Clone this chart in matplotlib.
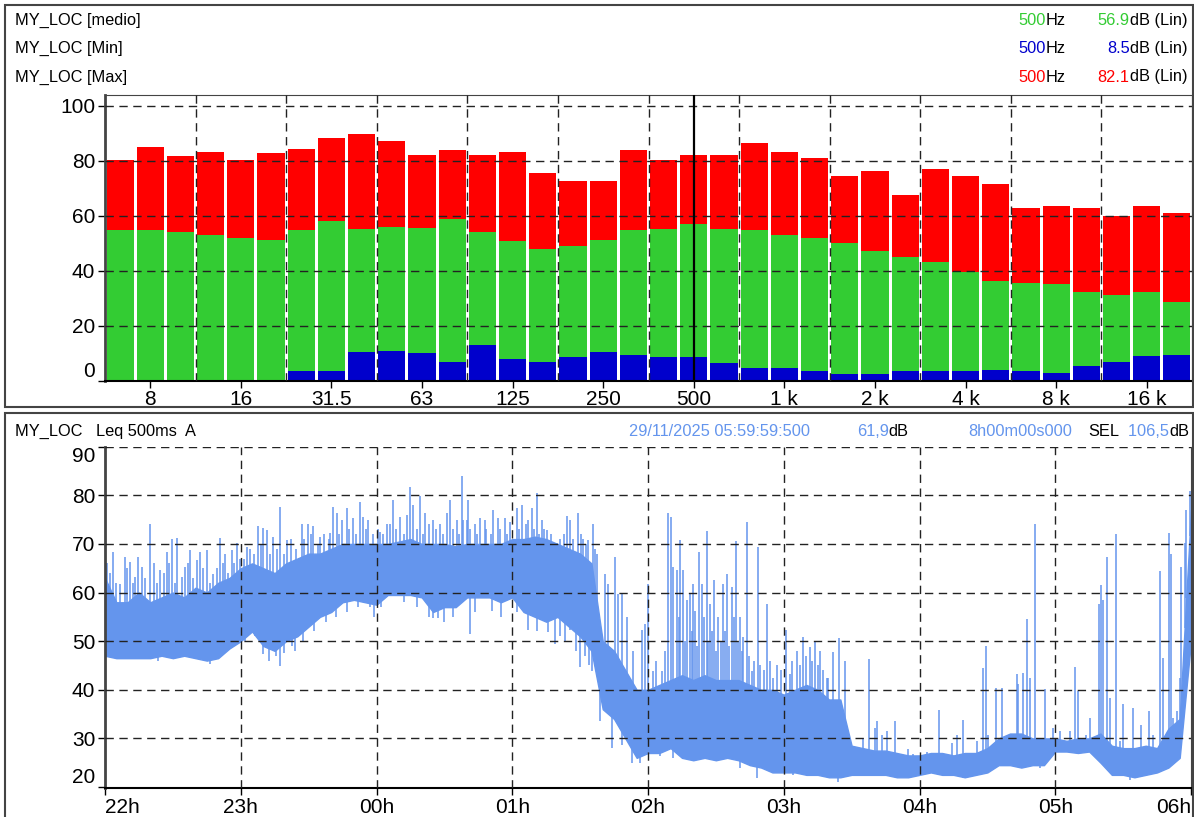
import matplotlib
matplotlib.use('Agg')
import matplotlib.pyplot as plt
from matplotlib.patches import Rectangle
import numpy as np

plt.rcParams['font.family'] = ['Liberation Sans', 'DejaVu Sans']

W, H = 1194, 817
GREEN = '#33cc33'
RED = '#ff0000'
BLUE = '#0000cc'
LINE = '#6495ed'
GRID = (0, (6, 4))

# ---------------- 1/3 octave spectrum (6.3 Hz .. 20 kHz) ----------------
bands = ['6.3', '8', '10', '12.5', '16', '20', '25', '31.5', '40', '50', '63', '80',
         '100', '125', '160', '200', '250', '315', '400', '500', '630', '800', '1k', '1.25k',
         '1.6k', '2k', '2.5k', '3.15k', '4k', '5k', '6.3k', '8k', '10k', '12.5k', '16k', '20k']
spec_max = [80.3, 85.0, 81.8, 83.2, 80.3, 82.8, 84.3, 88.3, 89.8, 87.2, 82.1, 83.9,
            82.1, 83.2, 75.5, 72.6, 72.6, 83.9, 80.3, 82.1, 82.1, 86.5, 83.2, 81.0,
            74.5, 76.3, 67.5, 77.0, 74.5, 71.5, 62.8, 63.5, 62.8, 59.9, 63.5, 60.9]
spec_med = [54.7, 54.7, 54.0, 52.9, 51.8, 51.1, 54.7, 58.0, 55.1, 55.8, 55.5, 58.8,
            54.0, 50.7, 47.8, 48.9, 51.1, 54.7, 55.1, 56.9, 55.1, 54.7, 52.9, 51.8,
            50.0, 47.1, 44.9, 43.1, 39.4, 36.1, 35.4, 35.0, 32.1, 31.0, 32.1, 28.5]
spec_min = [0.0, 0.0, 0.0, 0.0, 0.0, 0.0, 3.3, 3.3, 10.2, 10.9, 9.9, 6.9,
            12.8, 8.0, 6.9, 8.4, 10.2, 9.1, 8.4, 8.5, 6.2, 4.4, 4.4, 3.3,
            2.2, 2.2, 3.3, 3.3, 3.3, 4.0, 3.6, 2.9, 5.1, 6.9, 8.8, 9.1]
spec_ticks = ['8', '16', '31.5', '63', '125', '250', '500', '1k', '2k', '4k', '8k', '16k']
spec_tick_labels = ['8', '16', '31.5', '63', '125', '250', '500', '1 k', '2 k', '4 k', '8 k', '16 k']
cursor_band = '500'

# ---------------- Leq 500ms A time history (minutes after 22h00) ----------------
t_body = list(range(0, 481, 5))
body_low = [47, 46.5, 46.5, 46.5, 46.5, 47, 46.5, 47, 46.5, 46,
            46.5, 48.5, 50, 52, 49, 48, 50, 51, 53, 55,
            56, 58, 58.5, 58, 57.5, 59.5, 59.5, 59.5, 59, 56,
            57, 57, 59, 59, 59, 58, 59, 56, 55, 54,
            55, 53, 51, 48, 36, 34, 30, 26, 27, 27,
            28, 26, 25.5, 26, 25.5, 26, 25.5, 24.5, 24, 23,
            23, 23, 22.5, 22.5, 22, 22, 22.5, 22.5, 22.5, 22.5,
            22, 22, 22.5, 23, 22.5, 22.5, 22, 22.5, 23, 24.5,
            24.5, 24, 24.5, 24.5, 27.3, 27.3, 27, 27.3, 25, 22.5,
            22.5, 22, 22.5, 23, 24, 26, 50]
body_high = [63, 58, 58, 60, 58, 59, 60, 59, 61, 60,
             62, 63, 65, 66, 65, 64, 66, 67, 68, 68,
             69, 70, 70, 70, 70, 70, 70.5, 71, 70, 70,
             70, 69.5, 70, 70, 70, 70, 71, 71, 71.5, 71,
             70, 69, 68, 66, 50, 48, 44, 40, 40, 41,
             42, 43, 42, 43, 42, 42, 42, 41, 40, 40,
             39, 40, 41, 40, 38, 38, 28.5, 28, 27.5, 27.5,
             27, 26.5, 26.5, 27, 27, 26.5, 27, 27, 28, 30,
             31, 31, 30, 30, 30, 29.5, 30, 30, 31, 28.5,
             28, 28, 28.5, 28, 32, 34, 77]

spike_t = [0.7, 3.7, 6.6, 8.8, 11.0, 13.3, 14.7, 16.2, 19.9, 24.3, 27.3, 29.5, 31.7, 33.9,
           35.4, 37.6, 40.5, 42.0, 44.9, 47.9, 50.8, 53.0, 56.0, 58.2, 62.6, 67.8, 70.0,
           71.4, 74.4, 77.3, 80.3, 86.9, 89.9, 92.1, 95.0, 99.4, 100.9, 102.4, 104.6,
           106.8, 109.7, 112.7, 114.2, 116.4, 121.5, 124.5, 127.4, 130.4, 134.8, 136.3,
           139.2, 141.4, 145.1, 148.0, 151.0, 152.5, 155.4, 157.6, 158.4, 159.8, 160.6,
           163.5, 165.7, 167.9, 171.6, 173.8, 176.8, 179.0, 181.9, 184.2, 187.1, 188.6,
           190.8, 193.0, 195.2, 199.6, 204.0, 205.5, 209.2, 211.4, 213.6, 215.8, 217.3,
           221.0, 222.4, 225.4, 226.9, 228.3, 230.5, 233.5, 237.2, 238.7, 240.1, 242.3,
           246.0, 249.0, 250.1, 251.2, 252.6, 254.1, 255.6, 257.1, 258.5, 260.0, 260.7,
           262.5, 263.7, 265.9, 267.4, 269.3, 271.1, 273.3, 275.0, 277.0, 278.9, 280.6,
           282.1, 283.6, 285.8, 288.4, 290.2, 292.4, 295.4, 301.0, 302.7, 305.7, 308.6,
           311.6, 313.8, 316.0, 319.0, 319.7, 321.6, 324.4, 327.0, 330.7, 335.1, 337.8,
           340.3, 341.0, 343.3, 345.5, 349.1, 355.0, 357.2, 363.1, 368.7, 374.2, 376.7,
           379.3, 383.0, 385.2, 388.2, 389.2, 390.4, 393.6, 396.3, 398.5, 402.9, 403.6,
           405.9, 407.6, 408.8, 411.0, 415.4, 419.1, 422.1, 426.5, 428.7, 430.2, 433.8,
           435.3, 439.3, 440.0, 441.2, 442.7, 444.1, 446.8, 448.6, 450.0, 454.5, 458.1,
           461.5, 463.3, 466.5, 467.7, 470.2, 471.1, 472.1, 473.6, 475.1, 475.8, 477.3,
           478.0, 479.5,
           2.0, 5.0, 9.8, 12.2, 17.5, 21.5, 23.0, 26.0, 28.5, 31.0, 36.5, 39.0, 43.5,
           46.5, 49.5, 52.0, 54.5, 57.0, 59.5, 61.5, 64.0, 66.0, 69.0, 73.0, 76.0, 79.0,
           82.0, 84.5, 88.0, 91.0, 94.0, 97.0, 99.0, 103.5, 108.0, 111.0, 115.5, 118.5,
           120.5, 123.0, 126.0, 128.5, 132.0, 133.5, 138.0, 140.5, 143.0, 146.5, 149.5,
           154.0, 156.5, 161.5, 164.5, 168.5, 170.5, 174.8, 177.8, 183.0, 186.0, 189.5,
           192.0, 194.0, 197.0, 201.0, 203.0, 207.0, 210.5, 212.5, 216.5, 243.5, 247.5,
           253.5, 256.5, 259.3, 261.5, 264.8, 266.5, 268.2, 270.2, 272.2, 274.2, 276.0,
           278.0, 279.8, 281.4, 284.7, 287.0, 289.3, 291.3, 294.0, 297.0, 299.0, 303.5,
           307.0, 310.0, 312.5, 315.0, 317.5]
spike_top = [66.0, 68.4, 61.8, 67.3, 66.3, 63.2, 67.3, 65.3, 74.2, 64.6, 68.4, 71.1, 71.3, 63.2,
             65.3, 68.7, 66.7, 68.4, 68.7, 63.9, 71.3, 68.0, 68.7, 70.1, 69.4, 73.6, 73.2,
             72.9, 71.5, 77.7, 70.8, 74.2, 74.2, 73.6, 71.5, 72.2, 77.7, 76.3, 74.9,
             77.3, 75.3, 78.7, 75.6, 74.9, 72.5, 74.2, 79.1, 75.6, 81.7, 78.0,
             79.8, 76.3, 74.9, 74.2, 76.3, 79.1, 74.9, 83.9, 74.9, 74.9, 79.1,
             74.2, 75.3, 74.9, 77.0, 75.3, 75.3, 74.6, 77.3, 78.0, 74.9, 77.3,
             80.5, 74.9, 72.9, 70.1, 75.8, 74.9, 76.3, 71.1, 70.8, 74.0, 68.0,
             63.9, 61.8, 67.3, 59.8, 59.8, 54.9, 48.0, 52.2, 53.5, 61.8, 43.9,
             43.9, 76.3, 75.6, 65.3, 64.6, 70.8, 64.6, 58.4, 59.8, 61.8, 56.3,
             68.4, 61.8, 72.7, 57.7, 62.5, 54.9, 61.8, 63.9, 61.1, 70.7, 54.9,
             50.8, 74.6, 43.9, 69.4, 39.7, 57.7, 42.5, 52.2, 43.2, 48.0, 50.8,
             48.7, 50.1, 48.0, 42.5, 42.5, 47.7, 50.6, 46.0, 28.0, 30.0, 46.3,
             32.1, 33.5, 30.8, 31.5, 33.5, 27.9, 26.8, 27.3, 35.9, 29.0, 30.8,
             33.7, 26.6, 29.4, 44.4, 49.1, 30.8, 40.4, 40.4, 30.0, 43.2, 41.1,
             43.5, 54.6, 42.5, 74.2, 40.1, 32.1, 31.5, 31.5, 44.6, 39.7, 30.8,
             34.2, 57.7, 61.5, 58.4, 67.3, 38.4, 72.0, 29.4, 37.0, 36.3, 32.8,
             35.6, 30.8, 64.4, 46.6, 72.2, 68.0, 34.2, 35.6, 42.5, 65.3, 70.1,
             77.0, 80.8,
             64, 62, 65, 62, 63, 66, 62, 64, 66, 62, 66, 63, 65,
             62, 65, 66, 64, 66, 67, 67, 69, 68, 70, 68, 69, 68,
             71, 69, 71, 72, 70, 72, 71, 72, 73, 72, 73, 72,
             73, 72, 74, 73, 72, 76, 73, 72, 74, 73, 72,
             73, 72, 73, 72, 73, 72, 73, 72, 73, 74, 73,
             72, 73, 72, 71, 72, 71, 72, 70, 69, 46, 48,
             55, 50, 52, 49, 55, 50, 52, 48, 50, 52, 49,
             55, 50, 48, 47, 46, 45, 44, 46, 45, 44, 46,
             45, 47, 46, 45, 44]

dip_t = [23.6, 46.4, 70.0, 77.3, 84.0, 117.1, 145.1, 147.3, 161.3, 170.9, 187.1, 195.9,
         198.9, 205.5, 209.9, 215.1, 218.8, 223.9, 228.3, 232.8, 236.4, 245.3, 251.2,
         260.0, 268.9, 280.6, 288.0, 292.4, 304.2, 311.6, 324.1, 352.8, 379.3, 413.2, 453.0,
         62.0, 66.5, 72.5, 75.5, 79.0, 82.5, 87.5, 92.5, 97.5, 102.0, 107.0, 112.0, 119.0,
         122.0, 132.0, 138.0, 143.0, 150.0, 154.0, 163.5, 175.0, 182.0, 191.0, 201.0,
         203.5, 208.0, 212.0, 214.0]
dip_bottom = [46.0, 45.4, 47.3, 44.9, 48.0, 57.0, 54.8, 54.8, 51.5, 56.3, 52.2, 51.8,
              49.4, 52.2, 44.6, 43.9, 33.5, 28.0, 28.7, 24.9, 24.9, 26.3, 26.0,
              26.3, 25.6, 23.9, 21.8, 24.5, 22.5, 23.5, 21.1, 22.1, 21.8, 23.9, 21.4,
              50, 51, 46, 47, 47.5, 49, 50, 52, 54, 55, 56, 57, 55,
              57, 58, 57, 55, 54, 55, 56, 55, 56, 52, 51,
              50, 48, 47, 45]

hour_ticks = [0, 60, 120, 180, 240, 300, 360, 420, 480]
hour_labels = ['22h', '23h', '00h', '01h', '02h', '03h', '04h', '05h', '06h']


def fx(x):
    return x / W


def fy(y):
    return 1 - y / H


fig = plt.figure(figsize=(W / 100, H / 100), dpi=100)
renderer = fig.canvas.get_renderer()


def chain(x, y, parts, ha='left', size=11.8):
    # write several coloured pieces of text one after the other
    if ha == 'right':
        parts = parts[::-1]
    for s, c in parts:
        t = fig.text(fx(x), fy(y), s, color=c, ha=ha, va='center', fontsize=size)
        bb = t.get_window_extent(renderer)
        x = bb.x1 if ha == 'left' else bb.x0


# panel frames
fig.add_artist(Rectangle((fx(4.5), fy(407)), fx(1193 - 4.5), (407 - 4.7) / H,
                         transform=fig.transFigure, fill=False, ec='#444444', lw=1.5))
fig.add_artist(Rectangle((fx(4.5), fy(820)), fx(1193 - 4.5), (820 - 413) / H,
                         transform=fig.transFigure, fill=False, ec='#444444', lw=1.5))

# ---------------- top panel ----------------
ax1 = fig.add_axes([fx(105), fy(380.5), fx(1087), (380.5 - 94.7) / H])
x = np.arange(len(bands))
ax1.bar(x, spec_max, width=0.9, color=RED, zorder=1)
ax1.bar(x, spec_med, width=0.9, color=GREEN, zorder=1)
ax1.bar(x, spec_min, width=0.9, color=BLUE, zorder=1)
ax1.set_xlim(-0.5, len(bands) - 0.5)
ax1.set_ylim(0, 104)
for yv in [20, 40, 60, 80, 100]:
    ax1.axhline(yv, color='#222222', lw=1, ls=GRID, zorder=3)
for xv in np.arange(2.5, len(bands) - 1, 3):
    ax1.axvline(xv, color='#222222', lw=1, ls=GRID, zorder=3)
ax1.axvline(bands.index(cursor_band), color='black', lw=1.6, zorder=4)
ax1.set_xticks([bands.index(b) for b in spec_ticks], spec_tick_labels)
ax1.set_yticks([0, 20, 40, 60, 80, 100])
ax1.tick_params(axis='both', labelsize=15, length=5, width=1, pad=2)
ax1.get_yticklabels()[0].set_verticalalignment('bottom')

# ---------------- bottom panel ----------------
ax2 = fig.add_axes([fx(105), fy(788), fx(1086), (788 - 446.7) / H])
ax2.fill_between(t_body, body_low, body_high, color=LINE, lw=1.0, zorder=1)
s_base = np.interp(spike_t, t_body, body_high) - 1
ax2.vlines(spike_t, s_base, spike_top, color=LINE, lw=1.1, zorder=1)
d_base = np.interp(dip_t, t_body, body_low) + 1
ax2.vlines(dip_t, dip_bottom, d_base, color=LINE, lw=1.1, zorder=1)
ax2.set_xlim(0, 480)
ax2.set_ylim(19.8, 90)
for yv in [30, 40, 50, 60, 70, 80, 90]:
    ax2.axhline(yv, color='#222222', lw=1, ls=GRID, zorder=3)
for xv in hour_ticks[1:-1]:
    ax2.axvline(xv, color='#222222', lw=1, ls=GRID, zorder=3)
ax2.set_xticks(hour_ticks, hour_labels)
ax2.set_yticks([20, 30, 40, 50, 60, 70, 80, 90])
ax2.tick_params(axis='both', labelsize=15, length=5, width=1, pad=2)
ax2.get_yticklabels()[0].set_verticalalignment('bottom')
ax2.get_yticklabels()[-1].set_verticalalignment('top')
ax2.get_xticklabels()[0].set_horizontalalignment('left')
ax2.get_xticklabels()[-1].set_horizontalalignment('right')
ax2.spines['top'].set_visible(False)

for ax in (ax1, ax2):
    ax.spines['left'].set_linewidth(2)
    ax.spines['left'].set_color('#444444')
    ax.spines['bottom'].set_linewidth(1.5)
    ax.spines['right'].set_color('#444444')
    ax.spines['top'].set_color('#444444')

# ---------------- header texts ----------------
rows = [('MY_LOC [medio]', GREEN, '56.9', 20.5),
        ('MY_LOC [Min]', BLUE, '8.5', 48.7),
        ('MY_LOC [Max]', RED, '82.1', 77)]
for name, col, val, yy in rows:
    fig.text(fx(15), fy(yy), name, ha='left', va='center', fontsize=11.8)
    chain(1066, yy, [('500', col), ('Hz', 'black')], ha='right')
    chain(1187, yy, [(val, col), ('dB (Lin)', 'black')], ha='right')

fig.text(fx(15), fy(431), 'MY_LOC   Leq 500ms  A', ha='left', va='center', fontsize=11.8)
chain(629, 431, [('29/11/2025 05:59:59:500', LINE)])
chain(857, 431, [('61,9', LINE), ('dB', 'black')])
chain(968, 431, [('8h00m00s000', LINE)])
chain(1189, 431, [('SEL', 'black'), ('  106,5', LINE), ('dB', 'black')], ha='right')

fig.savefig('out.png', dpi=100)
